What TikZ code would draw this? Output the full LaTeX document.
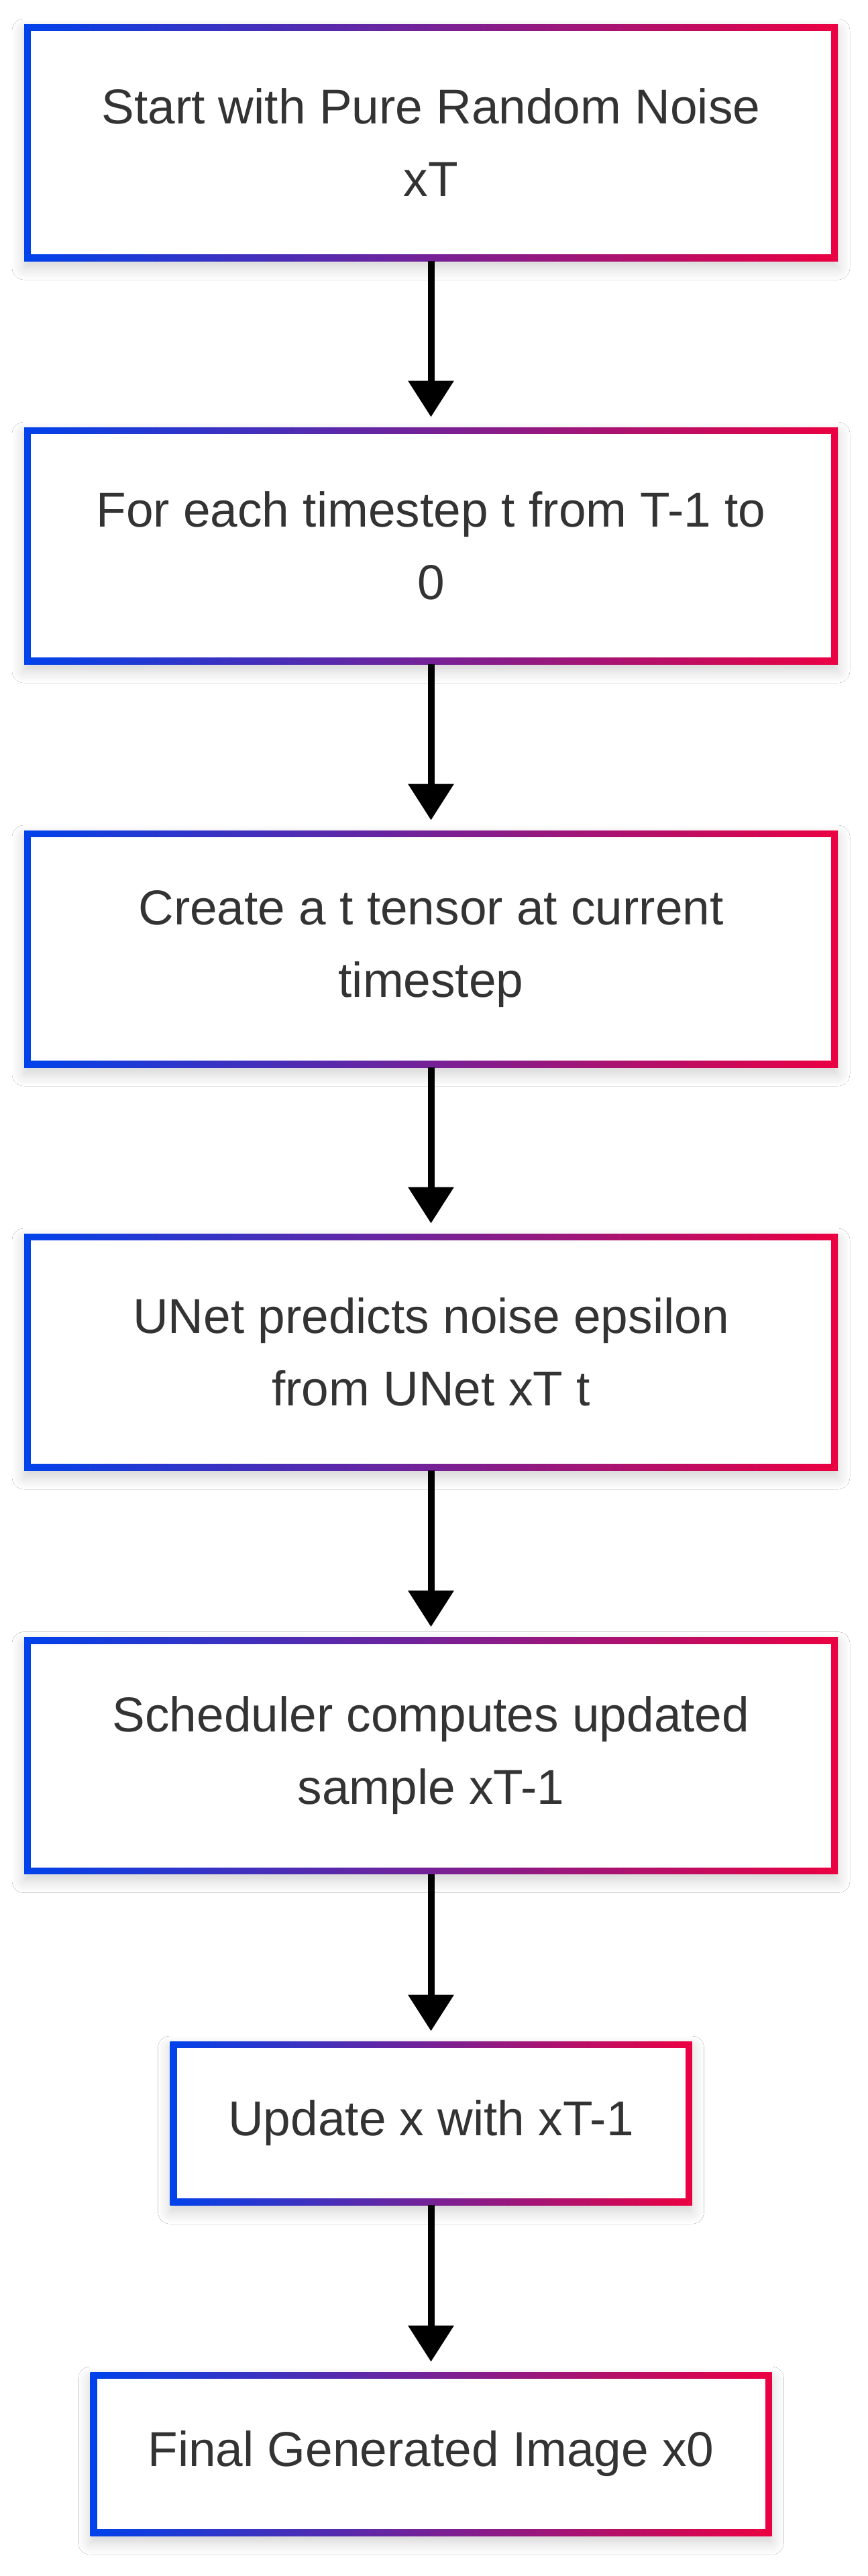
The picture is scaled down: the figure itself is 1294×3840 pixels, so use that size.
\documentclass[tikz,border=0pt]{standalone}
\usepackage{fontspec}
\setmainfont{Liberation Sans}
\usetikzlibrary{arrows.meta,shadows.blur}
\definecolor{cblue}{RGB}{0,66,235}
\definecolor{cred}{RGB}{235,0,66}
\definecolor{ctext}{HTML}{333333}
\tikzset{
  flowbox/.style n args={2}{rectangle, inner sep=0pt, minimum width=#1, minimum height=#2,
    left color=cblue, right color=cred,
    path picture={\fill[white] ([shift={(5pt,5pt)}]path picture bounding box.south west) rectangle ([shift={(-5pt,-5pt)}]path picture bounding box.north east);},
    blur shadow={shadow xshift=0pt, shadow yshift=-5pt, shadow blur radius=9pt, shadow blur steps=12, shadow opacity=18},
    text=ctext, font=\fontsize{36.5}{54}\selectfont, align=center},
  flowarrow/.style={line width=5pt, black, -{Triangle[width=33pt,length=27pt]}, shorten >=7.5pt}
}
\begin{document}
\begin{tikzpicture}[x=0.5pt,y=-0.5pt]
\fill[white] (0,0) rectangle (1294,3840);
\useasboundingbox (0,0) rectangle (1294,3840);
\node[flowbox={606.5pt}{176.5pt}] (b1) at (642.5,212.5) {Start with Pure Random Noise\\xT};
\node[flowbox={606.5pt}{176.5pt}] (b2) at (642.5,813.5) {For each timestep t from T-1 to\\0};
\node[flowbox={606.5pt}{176.5pt}] (b3) at (642.5,1414.5) {Create a t tensor at current\\timestep};
\node[flowbox={606.5pt}{176.5pt}] (b4) at (642.5,2015.5) {UNet predicts noise epsilon\\from UNet xT t};
\node[flowbox={606.5pt}{176.5pt}] (b5) at (642.5,2617) {Scheduler computes updated\\sample xT-1};
\node[flowbox={389pt}{122pt}] (b6) at (642.5,3165) {Update x with xT-1};
\node[flowbox={508pt}{122pt}] (b7) at (642.5,3658) {Final Generated Image x0};
\draw[flowarrow] (b1.south) -- (b2.north);
\draw[flowarrow] (b2.south) -- (b3.north);
\draw[flowarrow] (b3.south) -- (b4.north);
\draw[flowarrow] (b4.south) -- (b5.north);
\draw[flowarrow] (b5.south) -- (b6.north);
\draw[flowarrow] (b6.south) -- (b7.north);
\end{tikzpicture}
\end{document}
